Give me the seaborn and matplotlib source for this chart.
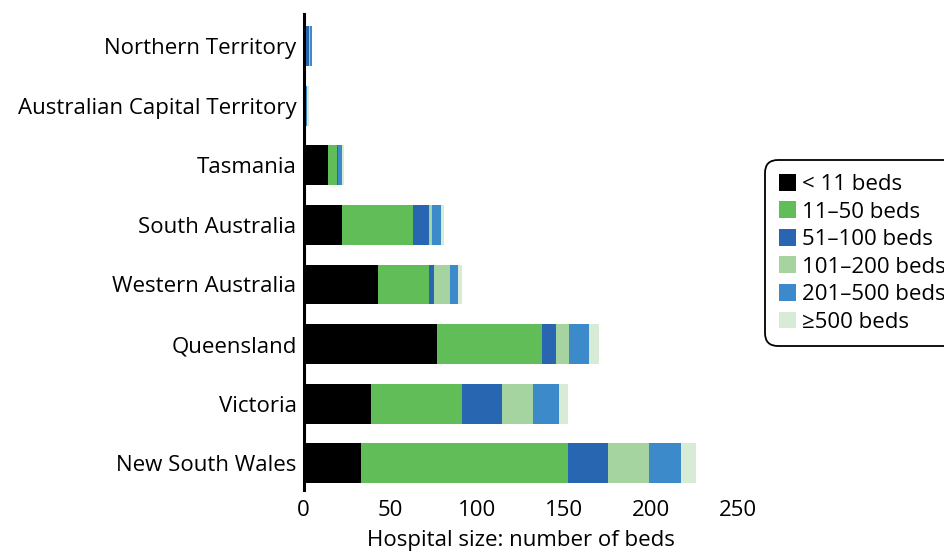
import pandas as pd
import numpy as np
import matplotlib
matplotlib.use("Agg")
import matplotlib.pyplot as plt
import seaborn as sns

# Datos (numero de hospitales por tamano)
estados = ["Northern Territory", "Australian Capital Territory", "Tasmania",
           "South Australia", "Western Australia", "Queensland", "Victoria",
           "New South Wales"]
grupos = ["< 11 beds", "11\u201350 beds", "51\u2013100 beds",
          "101\u2013200 beds", "201\u2013500 beds", "\u2265500 beds"]
menos_11 = [0, 1, 14, 22, 43, 77, 39, 33]
de_11_50 = [1, 0, 5, 41, 29, 60, 52, 119]
de_51_100 = [2, 0, 1, 9, 3, 8, 23, 23]
de_101_200 = [1, 0, 0, 2, 9, 8, 18, 24]
de_201_500 = [1, 1, 2, 5, 5, 11, 15, 18]
mas_500 = [0, 1, 1, 2, 2, 6, 5, 9]
colores = ["#000000", "#61bd57", "#2866b1", "#a5d4a0", "#3d8acb", "#d8ebd6"]

sns.set_theme(style="white")
plt.rcParams["font.family"] = ["Open Sans", "DejaVu Sans"]
plt.rcParams["text.color"] = "black"
plt.rcParams["axes.labelcolor"] = "black"

df = pd.DataFrame({"Estado": estados})
series = [menos_11, de_11_50, de_51_100, de_101_200, de_201_500, mas_500]
for g, s in zip(grupos, series):
    df[g] = s
# acumulados para apilar
acum = df[grupos].cumsum(axis=1)

fig = plt.figure(figsize=(9.45, 5.54), dpi=100)
ax = fig.add_axes([0.3212, 0.1155, 0.781 - 0.3212, 0.9747 - 0.1155])

# dibujar desde el ultimo grupo (total) hacia el primero
for g, c in reversed(list(zip(grupos, colores))):
    sns.barplot(x=acum[g], y=df["Estado"], orient="h", color=c, width=0.67,
                label=g, ax=ax, saturation=1, linewidth=0, order=estados)

ax.set_xlim(0, 250)
ax.set_ylim(7.45, -0.54)
ax.set_xticks([0, 50, 100, 150, 200, 250])
ax.set_xlabel("Hospital size: number of beds", fontsize=16, labelpad=7,
              color="black")
ax.set_ylabel("")
ax.tick_params(axis="both", length=0, labelsize=16, colors="black")
ax.tick_params(axis="y", pad=5)
ax.tick_params(axis="x", pad=7)
for lado in ["top", "right", "bottom"]:
    ax.spines[lado].set_visible(False)
ax.spines["left"].set_color("black")
ax.spines["left"].set_linewidth(2.2)

handles, labels = ax.get_legend_handles_labels()
if ax.legend_:
    ax.legend_.remove()
orden = [labels.index(g) for g in grupos]
leg = fig.legend([handles[i] for i in orden], [labels[i] for i in orden],
                 loc="upper left", bbox_to_anchor=(0.8095, 0.711), fontsize=16,
                 frameon=True, fancybox=True, edgecolor="black", framealpha=1,
                 handlelength=0.78, handleheight=0.78, handletextpad=0.25,
                 labelspacing=0.29, borderpad=0.62, borderaxespad=0)
for t in leg.get_texts():
    t.set_color("black")
leg.get_frame().set_linewidth(1.3)
leg.get_frame().set_boxstyle("round", pad=0, rounding_size=0.6)

plt.savefig("out.png", dpi=100)
